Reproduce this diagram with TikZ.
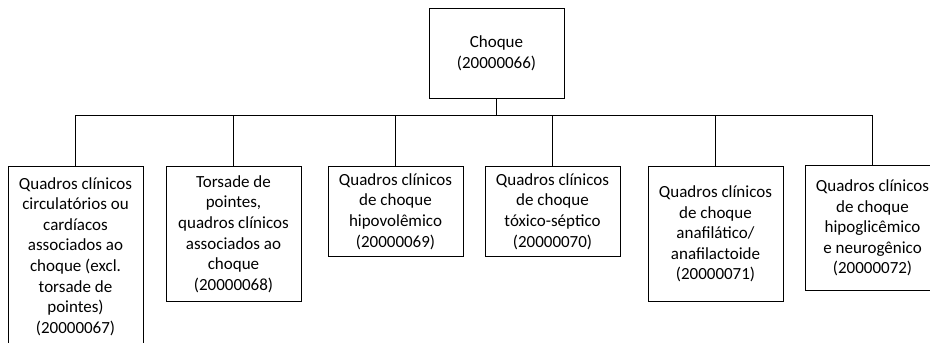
\documentclass[tikz,border=0pt]{standalone}
\usepackage{fontspec}
\setmainfont{Carlito}
\tikzset{
    box/.style = {draw, line width = 1pt, minimum width = 135pt, inner sep = 0pt, align = center, font = \fontsize{17}{20.6}\selectfont},
    kid/.style = {box, anchor = north},
    link/.style = {line width = 1pt}
}
\begin{document}
\begin{tikzpicture}[x = 1pt, y = -1pt]
    \clip (0,0) rectangle (930,343);
    \useasboundingbox (0,0) rectangle (930,343);

    \node[box, minimum height = 90pt] (root) at (496.5,53) {Choque\\(20000066)};

    \node[kid, minimum height = 180pt] (circ) at (75.5,166) {Quadros clínicos\\circulatórios ou\\cardíacos\\associados ao\\choque (excl.\\torsade de\\pointes)\\(20000067)};
    \node[kid, minimum height = 135pt] (tors) at (233.5,166) {Torsade de\\pointes,\\quadros clínicos\\associados ao\\choque\\(20000068)};
    \node[kid, minimum height = 90pt] (hipo) at (395.5,166) {Quadros clínicos\\de choque\\hipovolêmico\\(20000069)};
    \node[kid, minimum height = 90pt] (toxi) at (552.5,166) {Quadros clínicos\\de choque\\tóxico-séptico\\(20000070)};
    \node[kid, minimum height = 135pt] (anaf) at (715.5,166) {Quadros clínicos\\de choque\\anafilático/\\anafilactoide\\(20000071)};
    \node[kid, minimum height = 125pt] (neur) at (872.5,165) {Quadros clínicos\\de choque\\hipoglicêmico\\e neurogênico\\(20000072)};

    \coordinate (bus) at (496.5,115);
    \draw[link] (root) -- (bus);
    \foreach \k in {circ, tors, hipo, toxi, anaf, neur}
        \draw[link] (bus) -| (\k.north);
\end{tikzpicture}
\end{document}
